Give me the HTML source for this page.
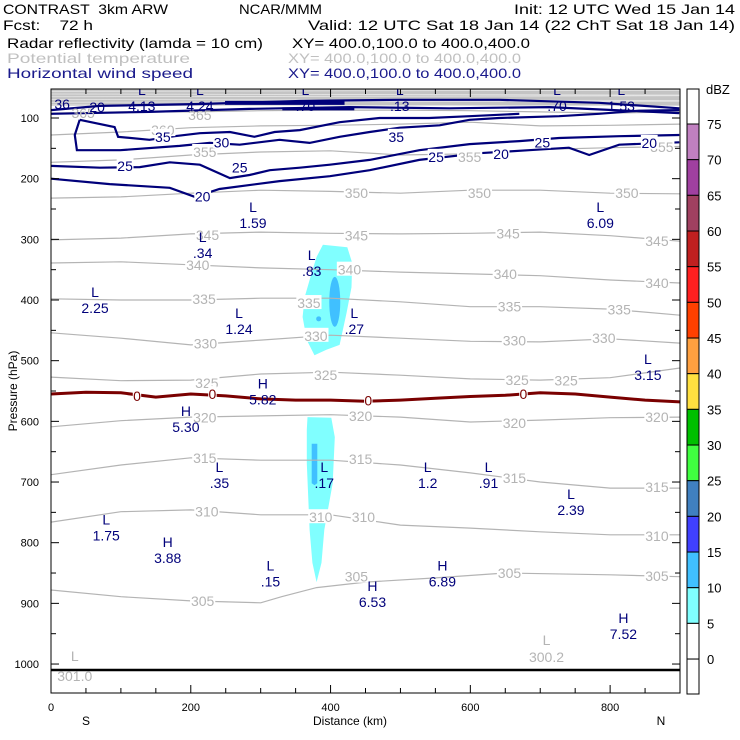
<!DOCTYPE html>
<html><head><meta charset="utf-8"><style>
html,body{margin:0;padding:0;background:#fff}
svg{display:block;font-family:"Liberation Sans",sans-serif}
</style></head><body>
<svg id="chart" width="740" height="740" viewBox="0 0 740 740" xmlns="http://www.w3.org/2000/svg">
<g font-size="14">
<text x="3" y="14" fill="#000" textLength="165" lengthAdjust="spacingAndGlyphs" xml:space="preserve">CONTRAST  3km ARW</text>
<text x="239" y="14" fill="#000" textLength="83" lengthAdjust="spacingAndGlyphs">NCAR/MMM</text>
<text x="514" y="14" fill="#000" textLength="221" lengthAdjust="spacingAndGlyphs">Init: 12 UTC Wed 15 Jan 14</text>
<text x="3" y="30" fill="#000" xml:space="preserve" textLength="90" lengthAdjust="spacingAndGlyphs">Fcst:    72 h</text>
<text x="308" y="30" fill="#000" textLength="427" lengthAdjust="spacingAndGlyphs">Valid: 12 UTC Sat 18 Jan 14 (22 ChT Sat 18 Jan 14)</text>
<text x="7" y="48" fill="#000" textLength="256" lengthAdjust="spacingAndGlyphs">Radar reflectivity (lamda = 10 cm)</text>
<text x="292" y="48" fill="#000" textLength="238" lengthAdjust="spacingAndGlyphs">XY= 400.0,100.0 to 400.0,400.0</text>
<text x="7" y="63" fill="#c0c0c0" textLength="183" lengthAdjust="spacingAndGlyphs">Potential temperature</text>
<text x="288" y="63" fill="#c0c0c0" textLength="233" lengthAdjust="spacingAndGlyphs">XY= 400.0,100.0 to 400.0,400.0</text>
<text x="7" y="78" fill="#1a1a8c" textLength="186" lengthAdjust="spacingAndGlyphs">Horizontal wind speed</text>
<text x="288" y="78" fill="#1a1a8c" textLength="233" lengthAdjust="spacingAndGlyphs">XY= 400.0,100.0 to 400.0,400.0</text>
</g>
<defs><clipPath id="pc"><rect x="51" y="89" width="629" height="604"/></clipPath></defs>
<g id="plot" clip-path="url(#pc)"></g>
<g id="axes"></g>
<g id="cbar"></g>
</svg>
<script>
// ---- data ----
const thetaKm = [0,100,200,300,400,500,600,700,800,900];
const theta365 = [92,90,90,88,87,87,88,90,92,90];
const theta360 = [128,123,116,113,112,110,107,113,112,110];
const theta355 = [173,169,161,156,154,161,159,152,149,147];
const theta350 = [232,230,224,219,221,224,219,219,224,225];
const theta345 = [301,298,291,288,290,291,290,288,294,303];
const theta340 = [339,337,342,347,350,354,357,360,367,372];
const theta335 = [398,400,400,397,397,403,411,411,415,425];
const theta330 = [454,463,474,466,458,463,468,469,464,471];
const theta325 = [527,533,532,522,519,524,530,532,528,512];
const theta320 = [609,599,593,591,589,593,601,598,594,593];
const theta315 = [688,672,660,664,664,672,685,700,710,710];
const theta310 = [766,749,746,754,754,771,776,782,787,787];
const theta305Km = [0,100,200,300,330,380,450,550,650,800,900];
const theta305 = [878,889,896,899,889,874,865,858,850,853,856];
const zeroKm = [0,50,100,150,200,250,300,350,400,450,500,550,600,650,700,750,800,850,900];
const zeroP = [555,552,553,560,555,558,563,565,565,567,565,562,559,557,553,555,560,565,568];
const thetaLabText = ["365","365","360","355","355","355","350","350","350","345","345","345","345","340","340","340","340","335","335","335","335","330","330","330","330","325","325","325","325","320","320","320","320","315","315","315","315","310","310","310","310","305","305","305","305"];
const thetaLabKm = [46,213,160,220,599,874,437,613,824,224,437,654,867,210,427,650,867,219,369,656,813,221,379,663,791,223,393,667,737,220,443,663,867,220,443,663,867,223,386,447,867,217,437,656,867];
const thetaLabP = [92,95,120,156,164,148,224,224,224,293,294,290,303,342,350,357,372,398,405,411,416,472,459,467,463,537,524,532,533,594,591,603,593,660,662,693,708,749,758,758,789,896,856,850,855];
const zeroLabKm = [123,231,454,676];
const zeroLabP = [558,555,566,555];
// wind speed (navy)
const w20Km = [0,84,170,206,241,327,399,456,527,613,684,741,770,813,899];
const w20P = [200,209,215,230,217,204,196,186,169,158,153,149,161,144,140];
const w25Km = [0,70,127,170,213,256,284,313,356,399,456,527,599,670,727,813,899];
const w25P = [179,182,181,173,177,199,194,186,182,177,169,153,143,138,133,130,128];
const w30Km = [41,34,37,99,184,227,270,327,370,413,456,499,556,599,641,727,784,841,899];
const w30P = [103,128,153,153,146,141,144,136,141,131,123,116,112,103,100,97,93,88,87];
const w35Km = [41,91,96,141,177,213,256,291,320,356,413,470,541,599,670];
const w35P = [103,115,131,136,130,125,123,131,123,120,107,100,100,97,93];
const wTopAKm = [0,70,213,356,499,641,784,899];
const wTopAP = [87,80,77,72,70,70,75,84];
const wTopBKm = [0,141,284,427,570,713,899];
const wTopBP = [93,90,85,82,84,82,92];
const windLabText = ["36","20","35","30","25","25","20","35","25","20","25","20"];
const windLabKm = [16,66,160,244,106,270,217,494,551,644,703,856];
const windLabP = [77,82,131,140,179,182,229,131,164,159,140,141];
// radar reflectivity blobs
const radarUpKm = [389,424,431,430,423,413,394,377,366,360,363,373,380];
const radarUpP = [309,313,339,379,421,474,482,491,466,428,395,355,329];
const radarLowKm = [367,401,406,403,391,387,380,374,370,366,366];
const radarLowP = [593,594,626,702,779,833,865,833,779,669,614];
const coreLowKm = [373,381,381,377,373];
const coreLowP = [637,637,702,705,702];
// H/L extrema
const hlType = ["L","L","L","L","L","L","L","L","L","L","L","L","L","L","H","H","L","L","L","L","L","L","H","L","H","H","H"];
const hlValue = ["4.13","4.24",".70",".13",".70","1.53","1.59","6.09",".34",".83","2.25","1.24",".27","3.15","5.82","5.30",".35",".17","1.2",".91","2.39","1.75","3.88",".15","6.53","6.89","7.52"];
const hlKm = [130,213,364,499,724,816,289,786,217,373,63,269,434,854,303,193,241,391,539,626,744,79,167,314,460,560,819];
const hlP = [54,54,54,54,54,54,247,247,296,326,387,421,421,497,538,583,675,675,675,675,720,762,799,838,871,838,924];
// axes
const xTicks = [0,200,400,600,800];
const yTicks = [100,200,300,400,500,600,700,800,900,1000];
// colorbar
const cbLevels = ["75","70","65","60","55","50","45","40","35","30","25","20","15","10","5","0"];
const cbColors = ["#ffffff","#c080c0","#a040a0","#a04060","#c02020","#ff2020","#ff4000","#ffa040","#ffe040","#00c000","#40ff40","#4080c0","#4040ff","#40c0ff","#80ffff","#ffffff","#ffffff"];

// ---- axis functions ----
const X = km => 51 + km*0.6989;
const Y = p => 118 + (p-100)*0.6067;
const NS = "http://www.w3.org/2000/svg";
function mk(tag, attrs, parent){const e=document.createElementNS(NS,tag);for(const k in attrs)e.setAttribute(k,attrs[k]);parent.appendChild(e);return e;}
const plot = document.getElementById('plot');
const axes = document.getElementById('axes');
const cbar = document.getElementById('cbar');
function pts(kms, ps){return kms.map((k,i)=>X(k).toFixed(1)+","+Y(ps[i]).toFixed(1)).join(" ");}

// top gray band
let band = mk('rect',{x:51,y:Y(50),width:629,height:Y(80)-Y(50),fill:'#c4c4c4'},plot);


for(let i=0;i<6;i++){
  let l = mk('line',{x1:51,x2:680,y1:Y(56+i*4.5),y2:Y(56+i*4.5)+(i%2?1:-1),stroke:'#ffffff','stroke-width':0.8,opacity:0.6},plot);
  
  
}

// radar
let ru = mk('polygon',{points:pts(radarUpKm,radarUpP),fill:'#80ffff'},plot);


let rl = mk('polygon',{points:pts(radarLowKm,radarLowP),fill:'#80ffff'},plot);


let cu = mk('ellipse',{cx:X(406),cy:Y(403),rx:5.5,ry:25,fill:'#40c0ff'},plot);


let cd = mk('circle',{cx:X(383),cy:Y(431),r:2.5,fill:'#40c0ff'},plot);


let cl = mk('polygon',{points:pts(coreLowKm,coreLowP),fill:'#40c0ff'},plot);



// isentropes
const thetaSeries = [theta365,theta360,theta355,theta350,theta345,theta340,theta335,theta330,theta325,theta320,theta315,theta310];
thetaSeries.forEach(s=>{
  let l = mk('polyline',{points:pts(thetaKm,s),fill:'none',stroke:'#b4b4b4','stroke-width':1.2},plot);
  
  
});
let l305 = mk('polyline',{points:pts(theta305Km,theta305),fill:'none',stroke:'#b4b4b4','stroke-width':1.2},plot);



// wind
const windK=[w20Km,w25Km,w30Km,w35Km,wTopAKm,wTopBKm], windPs=[w20P,w25P,w30P,w35P,wTopAP,wTopBP];
windK.forEach((k,i)=>{
  let l = mk('polyline',{points:pts(k,windPs[i]),fill:'none',stroke:'#00007a','stroke-width':2.2},plot);
  
  
});
let jet = mk('line',{x1:X(249),x2:X(420),y1:Y(75),y2:Y(75),stroke:'#00007a','stroke-width':4},plot);


let jet2 = mk('line',{x1:X(331),x2:X(434),y1:Y(85),y2:Y(85),stroke:'#00007a','stroke-width':3},plot);



// zero line
let z = mk('polyline',{points:pts(zeroKm,zeroP),fill:'none',stroke:'#7a0000','stroke-width':3},plot);



function lab(txt,x,y,color,name,bg){
  if(bg){let r=mk('rect',{x:x-txt.length*4.2,y:y-8,width:txt.length*8.4,height:14,fill:'#fff'},plot);
    
    }
  let t=mk('text',{x:x,y:y+5,'text-anchor':'middle','font-size':14,fill:color},plot);
  t.textContent=txt;
  
  
}
thetaLabText.forEach((t,i)=>lab(t,X(thetaLabKm[i]),Y(thetaLabP[i]),'#b4b4b4','isentrope-label',thetaLabP[i]>100));
zeroLabKm.forEach((k,i)=>lab('0',X(k),Y(zeroLabP[i]),'#7a0000','zero-label',true));
windLabText.forEach((t,i)=>lab(t,X(windLabKm[i]),Y(windLabP[i]),'#00007a','wind-label',windLabP[i]>100));
hlType.forEach((t,i)=>{
  lab(t,X(hlKm[i]),Y(hlP[i]),'#00007a','extremum-letter',false);
  lab(hlValue[i],X(hlKm[i]),Y(hlP[i])+16,'#00007a','extremum-value',false);
});
lab('L',X(34),Y(987),'#b4b4b4','surface-low-letter',false);
lab('301.0',X(34),Y(987)+20,'#b4b4b4','surface-low-value',false);
lab('L',X(709),Y(960),'#b4b4b4','surface-low-letter',false);
lab('300.2',X(709),Y(960)+17,'#b4b4b4','surface-low-value',false);

// surface line
let sf = mk('line',{x1:51,x2:680,y1:670,y2:670,stroke:'#000','stroke-width':2.5},plot);



// frame & ticks
let fr = mk('rect',{x:51,y:89,width:629,height:604,fill:'none',stroke:'#000','stroke-width':1},axes);


for(let k=0;k<=900;k+=50){
  const len = (k%200===0)?8:5;
  let t=mk('line',{x1:X(k),x2:X(k),y1:693,y2:693-len,stroke:'#000'},axes);
  
  
  let t2=mk('line',{x1:X(k),x2:X(k),y1:89,y2:89+len,stroke:'#000'},axes);
  
  
}
xTicks.forEach(k=>{
  let t=mk('text',{x:X(k),y:711,'text-anchor':'middle','font-size':11},axes);
  t.textContent=k;
  
  
});
for(let p=100;p<=1000;p+=50){
  const len=(p%100===0)?8:5;
  let t=mk('line',{x1:51,x2:51+len,y1:Y(p),y2:Y(p),stroke:'#000'},axes);
  
  
  let t2=mk('line',{x1:680,x2:680-len,y1:Y(p),y2:Y(p),stroke:'#000'},axes);
  
  
}
yTicks.forEach(p=>{
  let t=mk('text',{x:39,y:Y(p)+4,'text-anchor':'end','font-size':11},axes);
  t.textContent=p;
  
  
});
let yt=mk('text',{x:0,y:0,'text-anchor':'middle','font-size':12,transform:'translate(17,391) rotate(-90)'},axes);
yt.textContent='Pressure (hPa)';


let xt=mk('text',{x:350,y:725,'text-anchor':'middle','font-size':12},axes);
xt.textContent='Distance (km)';


let sS=mk('text',{x:86,y:725,'text-anchor':'middle','font-size':12},axes);
sS.textContent='S';


let sN=mk('text',{x:661,y:725,'text-anchor':'middle','font-size':12},axes);
sN.textContent='N';



// colorbar
const cbTop=89, cbStep=35.67, cbX=687, cbW=12;
cbColors.forEach((c,i)=>{
  const y0 = i===0?cbTop:124+(i-1)*cbStep;
  const y1 = i===cbColors.length-1?694:124+i*cbStep;
  let r=mk('rect',{x:cbX,y:y0,width:cbW,height:y1-y0,fill:c,stroke:'#000','stroke-width':1},cbar);
  
  
});
cbLevels.forEach((v,i)=>{
  const y=124+i*cbStep;
  let t=mk('text',{x:707,y:y+5,'font-size':13},cbar);
  t.textContent=v;
  
  
});
let du=mk('text',{x:706,y:94,'font-size':13},cbar);
du.textContent='dBZ';


</script>
</body></html>
